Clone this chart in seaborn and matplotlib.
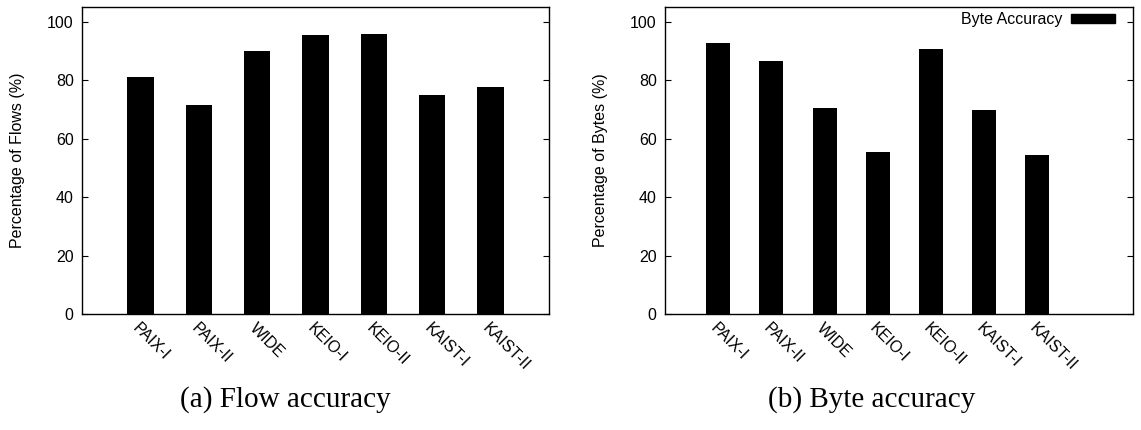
import matplotlib
matplotlib.use("Agg")
import matplotlib.pyplot as plt
from matplotlib.patches import Patch
import seaborn as sns

# Traces
traces = ["PAIX-I", "PAIX-II", "WIDE", "KEIO-I", "KEIO-II", "KAIST-I", "KAIST-II"]
flow_accuracy = [81.2, 71.5, 89.8, 95.5, 95.9, 74.8, 77.8]
byte_accuracy = [92.6, 86.7, 70.5, 55.3, 90.6, 69.8, 54.4]
yticks = [0, 20, 40, 60, 80, 100]

sns.set_theme(style="ticks")
plt.rcParams["font.family"] = ["Liberation Sans", "DejaVu Sans"]
plt.rcParams.update({
    "text.color": "black",
    "axes.labelcolor": "black",
    "xtick.color": "black",
    "ytick.color": "black",
    "axes.edgecolor": "black",
})

fig = plt.figure(figsize=(11.41, 4.30), dpi=100)
ax_flow = fig.add_axes([82 / 1141, 116 / 430, 467 / 1141, 307 / 430])
ax_byte = fig.add_axes([665 / 1141, 116 / 430, 468 / 1141, 307 / 430])


def draw_panel(ax, values, ylabel, xmax):
    sns.barplot(x=traces, y=values, color="black", saturation=1, width=0.45,
                edgecolor="black", linewidth=0, ax=ax)
    ax.set_xlim(-1, xmax)
    ax.set_ylim(0, 105)
    ax.set_yticks(yticks)
    ax.set_xlabel("")
    ax.set_ylabel(ylabel, fontsize=11.5, labelpad=16, color="black")
    ax.tick_params(axis="y", direction="in", length=4, width=0.8,
                   left=True, right=True, labelsize=11.5, pad=6,
                   colors="black", labelcolor="black")
    ax.tick_params(axis="x", length=0, pad=5, labelsize=11.5,
                   labelcolor="black")
    for lab in ax.get_xticklabels():
        lab.set_rotation(-45)
        lab.set_ha("left")
        lab.set_va("top")
        lab.set_rotation_mode("anchor")
    for sp in ax.spines.values():
        sp.set_visible(True)
        sp.set_linewidth(1.0)
        sp.set_color("black")


draw_panel(ax_flow, flow_accuracy, "Percentage of Flows (%)", 7)
draw_panel(ax_byte, byte_accuracy, "Percentage of Bytes (%)", 7.8)

leg = ax_byte.legend(handles=[Patch(facecolor="black", edgecolor="black")],
                     labels=["Byte Accuracy"], loc="upper right", frameon=False,
                     markerfirst=False, handlelength=2.75, handleheight=0.5,
                     handletextpad=0.56, fontsize=11.5, borderpad=0,
                     borderaxespad=0, bbox_to_anchor=(0.9615, 0.984))
for t in leg.get_texts():
    t.set_color("black")

fig.text(285 / 1141, 1 - 400 / 430, "(a) Flow accuracy", ha="center", va="center",
         fontsize=21, color="black", family=["Liberation Serif", "DejaVu Serif"])
fig.text(872 / 1141, 1 - 400 / 430, "(b) Byte accuracy", ha="center", va="center",
         fontsize=21, color="black", family=["Liberation Serif", "DejaVu Serif"])

fig.savefig("out.png", dpi=100)
